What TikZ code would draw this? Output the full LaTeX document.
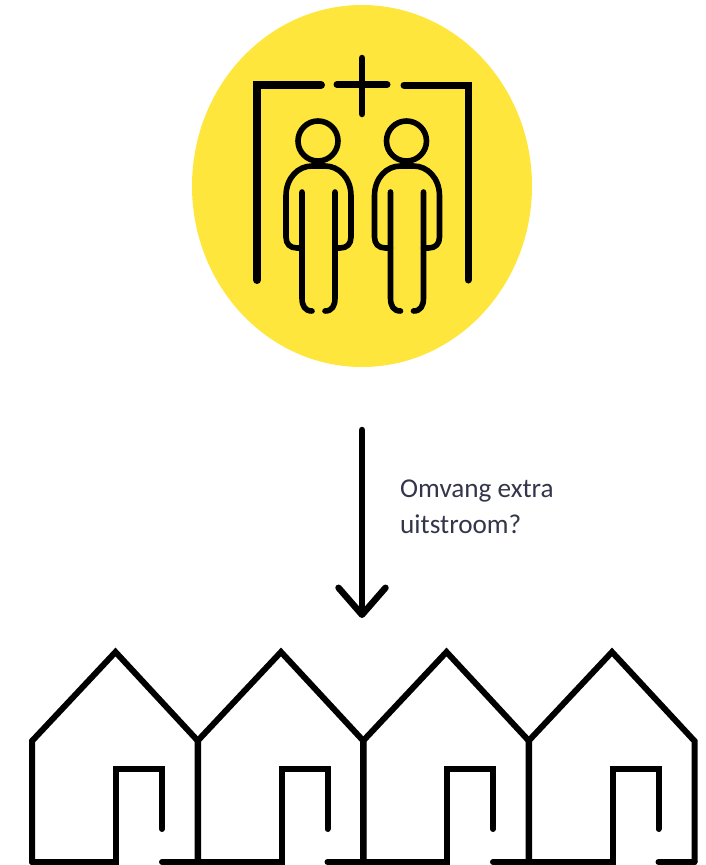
\documentclass[tikz,border=0pt]{standalone}
\usepackage{fontspec}
\setmainfont{Carlito}
\usetikzlibrary{arrows.meta}
\definecolor{sunny}{HTML}{FFE63C}
\definecolor{labelgrey}{HTML}{33364A}
\tikzset{
  ink/.style={draw=black,line cap=round,line join=round},
  frameline/.style={ink,line width=7pt,line join=miter},
  bodyline/.style={ink,line width=5.6pt},
  houseline/.style={ink,line width=6pt,line join=miter},
  flow/.style={ink,line width=6.5pt,-{Straight Barb[length=27pt,width=47pt,line width=6.5pt,round]}},
  caption/.style={text=labelgrey,font=\fontsize{27.2pt}{36pt}\selectfont,align=left,inner sep=0pt}
}
\newcommand{\personfig}[1]{%
  \begin{scope}[xshift=#1pt]
    \draw[bodyline] (318,141) circle[radius=20];
    \draw[bodyline] (302,248) -- (297,248) .. controls (290,248) and (286,244) .. (286,237)
      -- (286,196) .. controls (286,178) and (298,166) .. (312,166) -- (325,166)
      .. controls (339,166) and (351,178) .. (351,196) -- (351,237)
      .. controls (351,244) and (347,248) .. (340,248) -- (335,248);
    \draw[bodyline] (302,192) -- (302,298) .. controls (302,306) and (305,311) .. (312,311);
    \draw[bodyline] (335,192) -- (335,298) .. controls (335,306) and (332,311) .. (325,311);
  \end{scope}}
\newcommand{\housefig}[1]{%
  \begin{scope}[xshift=#1pt]
    \draw[houseline] (32,862) -- (32,741) -- (115.5,652) -- (198,741) -- (198,862);
    \draw[houseline] (32,862) -- (116,862) -- (116,769) -- (162,769) -- (162,829);
    \draw[houseline,line cap=round] (162,862) -- (198,862);
  \end{scope}}
\begin{document}
\begin{tikzpicture}[x=1pt,y=-1pt]
\useasboundingbox (0,0) rectangle (705,865);
\begin{scope}
\clip (0,0) rectangle (705,865);
\fill[sunny] (362,186) ellipse[x radius=170,y radius=181];
% entrance frame with the plus
\draw[frameline,line width=8pt] (257,280) -- (257,85) -- (321,85);
\draw[frameline,line cap=round] (337,84.5) -- (387,84.5);
\draw[frameline,line cap=round,line width=6.5pt] (362,58) -- (362,114);
\draw[frameline,line width=7pt] (404,85) -- (468,85) -- (468,280);
\personfig{0}
\personfig{88.5}
% arrow
\coordinate (flowstart) at (362,430);
\coordinate (flowend) at (362,618);
\draw[flow] (flowstart) -- (flowend);
\node[caption,anchor=north west] (question) at (400,480) {Omvang extra\\uitstroom?};
% houses
\housefig{0}
\housefig{165.5}
\housefig{331}
\housefig{496.5}
\end{scope}
\end{tikzpicture}
\end{document}
